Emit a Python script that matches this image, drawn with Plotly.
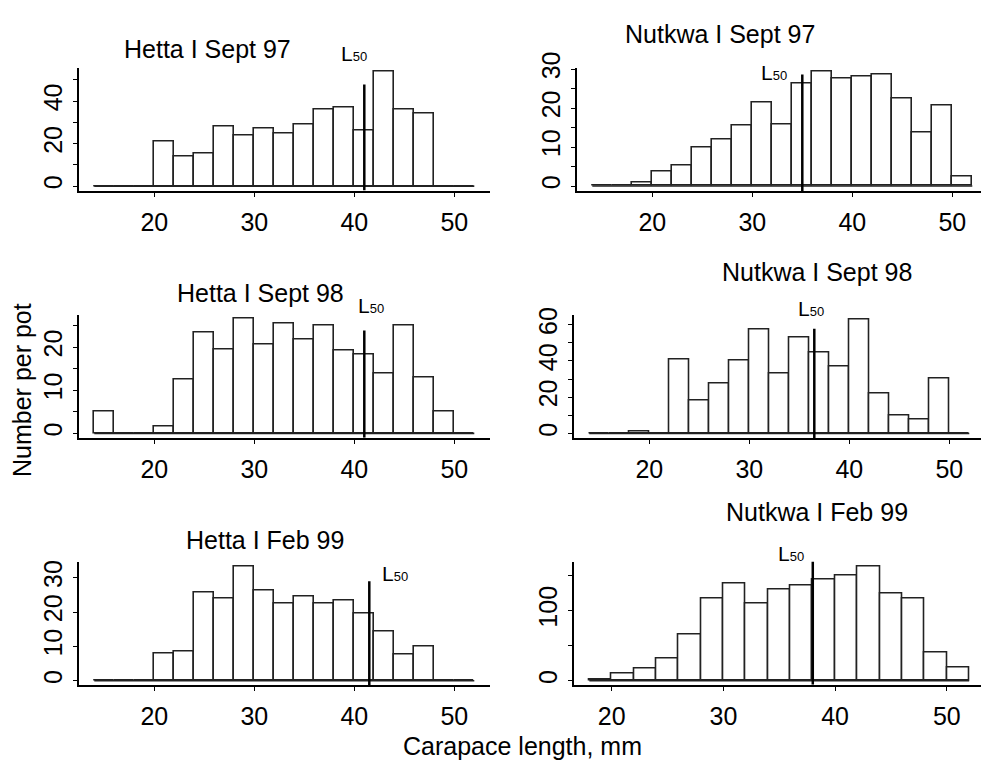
import plotly.graph_objects as go

W, H = 982, 762

# ---------------- data ----------------
titles = ["Hetta I Sept 97", "Nutkwa I Sept 97", "Hetta I Sept 98",
          "Nutkwa I Sept 98", "Hetta I Feb 99", "Nutkwa I Feb 99"]

bin_start = [14, 14, 14, 14, 14, 18]
bin_width = 2

hetta_sep97 = [0, 0, 0, 21, 14, 15.5, 28, 24, 27, 24.5, 29, 36, 37, 26, 54, 36, 34, 0, 0]
nutkwa_sep97 = [0, 0, 0.8, 3.8, 5.3, 9.9, 11.8, 15.6, 21.4, 15.7, 26.3, 29.3, 27.5, 28, 28.5,
                22.4, 13.7, 20.7, 2.5]
hetta_sep98 = [5, 0, 0, 1.5, 12.4, 23.4, 19.5, 26.6, 20.7, 25.5, 21.9, 25.1, 19.3, 18.3, 14,
               25.1, 13, 5, 0]
nutkwa_sep98 = [0, 0, 1.1, 0, 40.5, 18.4, 27.7, 40, 57.5, 33, 53, 44.7, 36.8, 63, 22.2, 10.1,
                7.9, 30.3, 0]
hetta_feb99 = [0, 0, 0, 7.8, 8.5, 25.8, 24, 33.2, 26.3, 22.4, 24.4, 22.4, 23.2, 19.6, 14.4,
               7.6, 9.9, 0, 0]
nutkwa_feb99 = [2.3, 9.8, 17.2, 31.6, 65.1, 117.2, 138.6, 109.8, 130.2, 136.3, 144.2, 150.2,
                162.8, 123.7, 116.7, 40, 19.1]

counts = [hetta_sep97, nutkwa_sep97, hetta_sep98, nutkwa_sep98, hetta_feb99, nutkwa_feb99]

l50 = [41, 35, 41, 36.5, 41.5, 38]
l50_top = [47.8, 28.6, 23.9, 57.8, 29, 169.8]

x_ticks = [20, 30, 40, 50]
y_tickvals = [[0, 10, 20, 30, 40, 50], [0, 5, 10, 15, 20, 25, 30], [0, 5, 10, 15, 20, 25],
              [0, 10, 20, 30, 40, 50, 60], [0, 10, 20, 30], [0, 50, 100, 150]]
y_ticktext = [["0", "", "20", "", "40", ""], ["0", "", "10", "", "20", "", "30"],
              ["0", "", "10", "", "20", ""], ["0", "", "20", "", "40", "", "60"],
              ["0", "10", "20", "30"], ["0", "", "100", ""]]

# ---------------- layout geometry (pixels) ----------------
x_dom_px = [(79, 490), (577, 981), (79, 490), (574.3, 981), (79, 490), (574.3, 981)]
y_dom_px = [(52.7, 178.3), (52.7, 179), (305, 430.7), (305, 431), (557.3, 683.3), (557.3, 683)]
x_ranges = [(12.47, 53.57), (12.47, 52.87), (12.47, 53.57), (12.5, 53.17), (12.47, 53.57),
            (16.65, 53.06)]
y_ranges = [(-2.1, 55.8), (-1.33, 30.4), (-1.0, 27.6), (-2.5, 65.6), (-1.23, 34.7), (-5.6, 169.8)]

title_pos = [(207, 33.3), (720, 18.3), (260, 283.3), (817, 261.3), (265, 535), (817, 507)]
l50_pos = [(353.7, 38.7), (774, 57.5), (370.8, 296), (811.3, 298.3), (395, 569.7), (790.8, 549)]

FONT = "Liberation Sans, Arial, sans-serif"


def px(x):
    return x / W


def py(y):
    return 1 - y / H


fig = go.Figure()
annotations = []

for i in range(6):
    n = i + 1
    xa = "x" if n == 1 else f"x{n}"
    ya = "y" if n == 1 else f"y{n}"
    c = counts[i]
    centers = [bin_start[i] + bin_width * (k + 0.5) for k in range(len(c))]
    edge_lo = bin_start[i]
    edge_hi = bin_start[i] + bin_width * len(c)

    # baseline at zero across all bins
    fig.add_trace(go.Scatter(x=[edge_lo, edge_hi], y=[0, 0], mode="lines",
                             line=dict(color="#222222", width=1.6),
                             xaxis=xa, yaxis=ya, showlegend=False, hoverinfo="skip"))
    fig.add_trace(go.Bar(x=centers, y=c, width=bin_width,
                         marker=dict(color="white", line=dict(color="#222222", width=1.6)),
                         xaxis=xa, yaxis=ya, showlegend=False))
    # L50 line
    fig.add_trace(go.Scatter(x=[l50[i], l50[i]], y=[y_ranges[i][0], l50_top[i]], mode="lines",
                             line=dict(color="black", width=2.5),
                             xaxis=xa, yaxis=ya, showlegend=False, hoverinfo="skip",
                             cliponaxis=False))

    axis_common = dict(showline=True, linecolor="black", linewidth=2, showgrid=False,
                       zeroline=False, ticks="outside", ticklen=4, tickwidth=1.3,
                       tickcolor="black", tickfont=dict(family=FONT, size=25, color="black"))
    fig.layout[("xaxis" if n == 1 else f"xaxis{n}")] = dict(
        domain=[px(x_dom_px[i][0]), px(x_dom_px[i][1])], range=list(x_ranges[i]),
        anchor=ya, tickvals=x_ticks, ticklabelstandoff=4, **axis_common)
    fig.layout[("yaxis" if n == 1 else f"yaxis{n}")] = dict(
        domain=[py(y_dom_px[i][1]), py(y_dom_px[i][0])], range=list(y_ranges[i]),
        anchor=xa, tickvals=y_tickvals[i], ticktext=y_ticktext[i], tickangle=-90,
        ticklabelstandoff=1, **axis_common)

    annotations.append(dict(text=titles[i], x=px(title_pos[i][0]), y=py(title_pos[i][1]),
                            xref="paper", yref="paper", showarrow=False,
                            xanchor="center", yanchor="middle",
                            font=dict(family=FONT, size=25, color="black")))
    annotations.append(dict(text='L<span style="font-size:13px">50</span>',
                            x=px(l50_pos[i][0]), y=py(l50_pos[i][1]),
                            xref="paper", yref="paper", showarrow=False,
                            xanchor="center", yanchor="middle",
                            font=dict(family=FONT, size=21, color="black")))

annotations.append(dict(text="Number per pot", x=px(22), y=py(382), xref="paper", yref="paper",
                        showarrow=False, textangle=-90, xanchor="center", yanchor="middle",
                        font=dict(family=FONT, size=25, color="black")))
annotations.append(dict(text="Carapace length, mm", x=px(522), y=py(746), xref="paper",
                        yref="paper", showarrow=False, xanchor="center", yanchor="middle",
                        font=dict(family=FONT, size=25, color="black")))

fig.update_layout(width=W, height=H, margin=dict(l=0, r=0, t=0, b=0),
                  paper_bgcolor="white", plot_bgcolor="white", bargap=0,
                  annotations=annotations, font=dict(family=FONT))

fig.write_html("out.html")
